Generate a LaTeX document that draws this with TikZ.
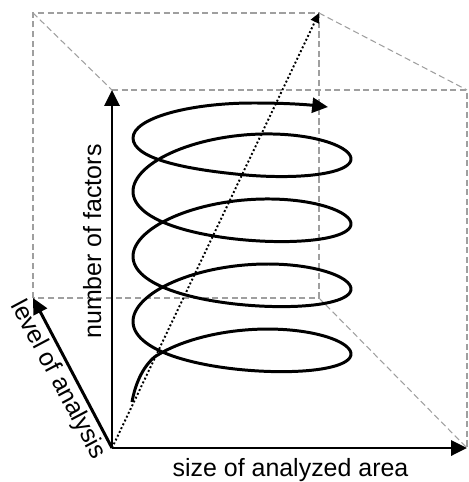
\documentclass[tikz,border=0pt]{standalone}
\usepackage{fontspec}
\setmainfont{Liberation Sans}
\usetikzlibrary{arrows.meta}

\begin{document}
\begin{tikzpicture}[x=0.02cm, y=-0.02cm,
    every node/.style={font=\fontsize{14.2}{17}\selectfont, inner sep=0pt},
    frame/.style={gray!75, line width=0.6pt, dash pattern=on 3.5pt off 2pt},
    axis/.style={line width=1.7pt, -{Triangle[length=9pt, width=8.5pt]}},
    diag/.style={line width=1.1pt, dash pattern=on 1.1pt off 1.3pt, -{Triangle[length=5.5pt, width=5pt]}},
    spiral/.style={line width=1.7pt, line join=round, -{Triangle[length=9pt, width=8.5pt]}}]
    \useasboundingbox (0,0) rectangle (468,482);

    % corners of the box
    \coordinate (O) at (112,448);
    \coordinate (X) at (467,448);
    \coordinate (Y) at (112,90);
    \coordinate (Z) at (33,298);
    \coordinate (BL) at (33,13);
    \coordinate (BR) at (319,13);
    \coordinate (BB) at (319,298);
    \coordinate (FR) at (467,90);

    % dashed box
    \draw[frame] (Z) -- (BL) -- (BR) -- (BB) -- cycle;
    \draw[frame] (Y) -- (FR) -- (X);
    \foreach \a/\b in {BL/Y, BR/FR, BB/X}
        \draw[frame] (\a) -- (\b);

    % axes
    \draw[axis] (O) -- (X);
    \draw[axis] (O) -- (Y);
    \draw[axis] (O) -- (Z);
    \draw[diag] (O) -- (BR);

    % spiral
    \draw[spiral] (132,402) .. controls (135,385) and (142,368) .. (154,357.4)
        -- plot[domain=-0.8*pi:6.5*pi, samples=400, variable=\t]
            ({242+109*cos(\t r)}, {354-10.35*\t+36*sin(\t r)-4*sin(\t r)^2})
        .. controls (182,169) and (133,158) .. (133,138)
        .. controls (133,118) and (190,103) .. (253,103)
        .. controls (290,103) and (310,105) .. (328,107);

    \node[anchor=base] (xlab) at (290.5,476) {size of analyzed area};
    \node[anchor=base, rotate=90] (ylab) at (101,241.5) {number of factors};
    \node[anchor=base, rotate=-62] (zlab) at (52,383) {level of analysis};
\end{tikzpicture}
\end{document}
